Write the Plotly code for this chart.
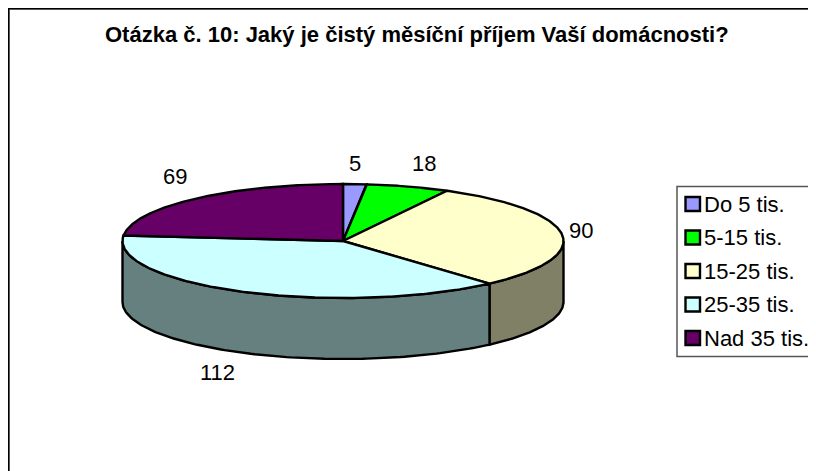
import numpy as np
import plotly.graph_objects as go

categories = ["Do 5 tis.", "5-15 tis.", "15-25 tis.", "25-35 tis.", "Nad 35 tis."]
values = [5, 18, 90, 112, 69]
top_colors = ["#9999FF", "#00FF00", "#FFFFCC", "#CCFFFF", "#660066"]
side_colors = ["#666699", "#00AA00", "#808066", "#668080", "#330033"]
chart_title = "Otázka č. 10: Jaký je čistý měsíční příjem Vaší domácnosti?"
label_offsets = [(355 - 343, 163 - 241), (424 - 343, 163 - 241), (581 - 343, 230 - 241),
                 (217 - 343, 372 - 241), (175 - 343, 176 - 241)]

W, H = 816, 471
PAGE = 8  # the page's own margin moves the figure by this much
CX, CY, RX, RY, DEPTH = 343, 241, 220.5, 57, 61
FONT = 22


def pt(theta):
    return CX + RX * np.sin(theta), CY - RY * np.cos(theta)


fig = go.Figure()
fractions = np.array(values, dtype=float) / sum(values)
edges = np.concatenate([[0], np.cumsum(fractions)]) * 2 * np.pi
line = dict(color="black", width=2.4)

# side walls: only the front half (pi/2 .. 3pi/2) is visible
for i in range(len(values)):
    a, b = max(edges[i], np.pi / 2), min(edges[i + 1], 3 * np.pi / 2)
    if b <= a:
        continue
    t = np.linspace(a, b, 120)
    x, y = pt(t)
    fig.add_trace(go.Scatter(
        x=np.concatenate([x, x[::-1], x[:1]]),
        y=np.concatenate([y, y[::-1] + DEPTH, y[:1]]),
        fill="toself", fillcolor=side_colors[i], mode="lines", line=line,
        hoverinfo="skip", showlegend=False))

# top faces
for i in range(len(values)):
    t = np.linspace(edges[i], edges[i + 1], 200)
    x, y = pt(t)
    fig.add_trace(go.Scatter(
        x=np.concatenate([[CX], x, [CX]]),
        y=np.concatenate([[CY], y, [CY]]),
        fill="toself", fillcolor=top_colors[i], mode="lines", line=line,
        name=categories[i], hoverinfo="skip", showlegend=False))

annotations = [dict(x=CX + dx, y=CY + dy, text=str(v), showarrow=False, xref="x", yref="y",
                    font=dict(size=FONT))
               for v, (dx, dy) in zip(values, label_offsets)]

# chart frame (black with a grey inner edge), then the legend box on top of it
LX, LY0, LSTEP = 702, 204, 33.5
shapes = [dict(type="rect", x0=9.5, x1=840, y0=9.5, y1=500, line=dict(color="#AAAAAA", width=1),
               fillcolor="white", layer="below"),
          dict(type="rect", x0=8.5, x1=840, y0=8.5, y1=500, line=dict(color="black", width=2),
               layer="below"),
          dict(type="rect", x0=677, x1=840, y0=186.5, y1=356.5, line=dict(color="#555555", width=1.5),
               fillcolor="white", layer="below")]
for i, c in enumerate(categories):
    yc = LY0 + i * LSTEP
    shapes.append(dict(type="rect", x0=685.5, x1=700, y0=yc - 7, y1=yc + 7,
                       fillcolor=top_colors[i], line=dict(color="black", width=2.4)))
    annotations.append(dict(x=LX, y=yc, text=c, showarrow=False, xref="x", yref="y", xanchor="left",
                            font=dict(size=FONT)))
annotations.append(dict(x=417, y=34, text="<b>%s</b>" % chart_title, showarrow=False, xref="x", yref="y",
                        font=dict(size=FONT)))

fig.update_layout(
    width=W, height=H, margin=dict(l=0, r=0, t=0, b=0),
    paper_bgcolor="white", plot_bgcolor="white",
    font=dict(family="Liberation Sans, Arial, sans-serif", color="black"),
    xaxis=dict(range=[PAGE, W + PAGE], visible=False, fixedrange=True),
    yaxis=dict(range=[H + PAGE, PAGE], visible=False, fixedrange=True),
    annotations=annotations, shapes=shapes, showlegend=False,
)
fig.write_html("out.html", config=dict(displayModeBar=False))
